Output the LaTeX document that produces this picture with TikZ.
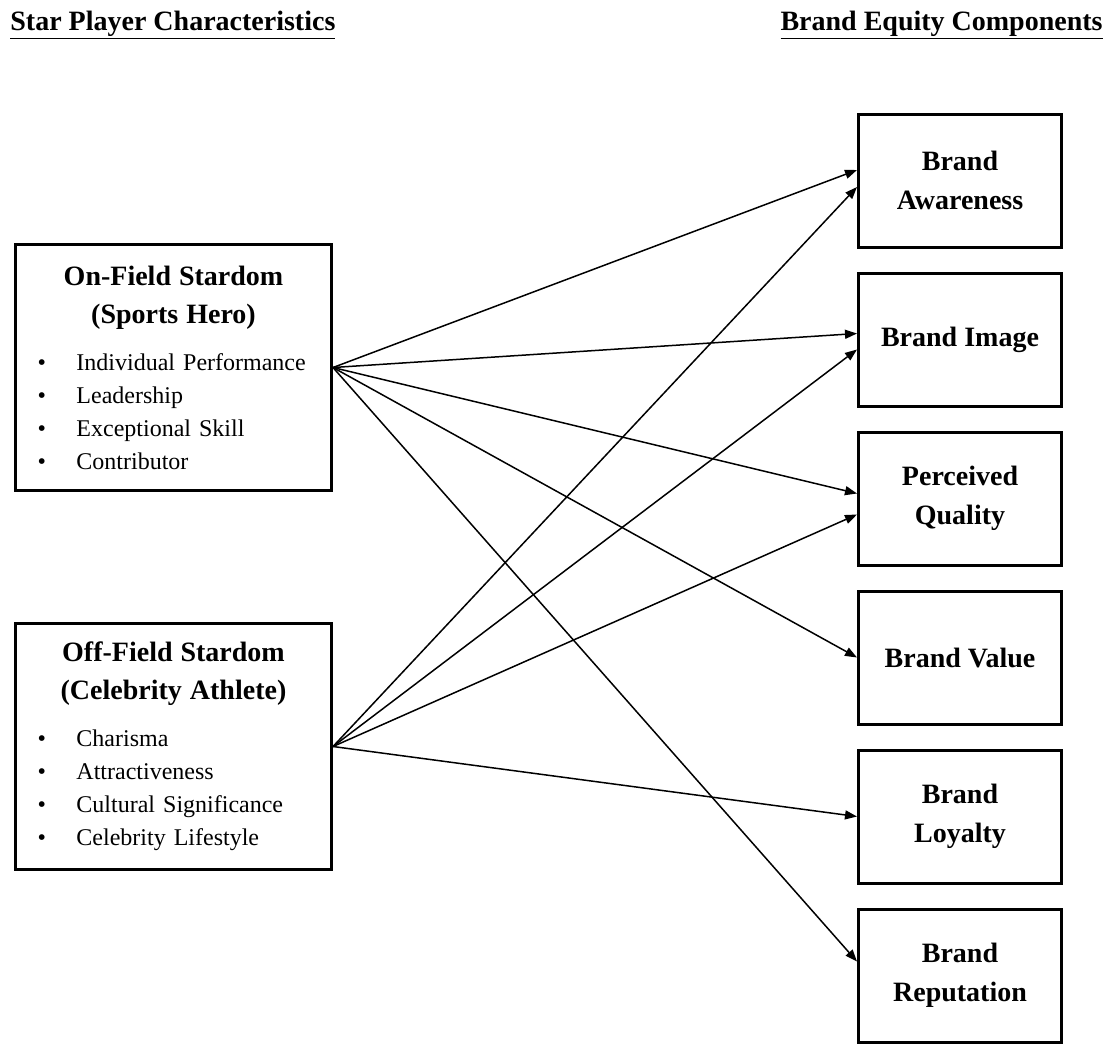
\documentclass[tikz,border=0pt]{standalone}
\usepackage{fontspec}
\setmainfont{Liberation Serif}
\usetikzlibrary{arrows.meta,positioning}

\newcommand{\listentry}[1]{\makebox[158pt][l]{\hspace*{11pt}\makebox[19.5pt][l]{\textbullet}#1}}

\begin{document}
\begin{tikzpicture}[
    x=0.5pt, y=-0.5pt,
    node distance=11.5pt,
    headnode/.style={font=\bfseries\fontsize{14}{17}\selectfont, inner sep=0pt},
    leftbox/.style={draw, line width=1.5pt, minimum width=158pt, minimum height=123pt,
        text width=158pt, inner sep=0pt, align=center, font=\fontsize{12}{16.5}\selectfont},
    rightbox/.style={draw, line width=1.5pt, minimum width=101.5pt, minimum height=66.5pt,
        align=center, font=\bfseries\fontsize{14}{19.5}\selectfont},
    arr/.style={-{Triangle[length=6pt,width=4.5pt]}, line width=0.75pt}
]
\useasboundingbox (0,0) rectangle (1114,1045);

% Headers
\node[headnode, anchor=base west] (lefthead) at (10,30) {\underline{Star Player Characteristics}};
\node[headnode, anchor=base east] (righthead) at (1103,30) {\underline{Brand Equity Components}};

% Star player boxes
\node[leftbox] (onfield) at (173.5,367.5) {%
    {\bfseries\fontsize{14}{19}\selectfont On-Field Stardom\\[2.5pt] (Sports Hero)}\\[7pt]
    \listentry{Individual Performance}\\
    \listentry{Leadership}\\
    \listentry{Exceptional Skill}\\
    \listentry{Contributor}};
\node[leftbox, below=65pt of onfield] (offfield) {%
    {\bfseries\fontsize{14}{19}\selectfont Off-Field Stardom\\[2.5pt] (Celebrity Athlete)}\\[7pt]
    \listentry{Charisma}\\
    \listentry{Attractiveness}\\
    \listentry{Cultural Significance}\\
    \listentry{Celebrity Lifestyle}};

% Brand equity boxes
\node[rightbox] (aware) at (960,180.5) {Brand\\Awareness};
\node[rightbox, below=of aware] (image) {Brand Image};
\node[rightbox, below=of image] (quality) {Perceived\\Quality};
\node[rightbox, below=of quality] (value) {Brand Value};
\node[rightbox, below=of value] (loyalty) {Brand\\Loyalty};
\node[rightbox, below=of loyalty] (reput) {Brand\\Reputation};

% On-field links
\draw[arr] (onfield.east) -- ([yshift=5.25pt]aware.west);
\draw[arr] (onfield.east) -- ([yshift=3pt]image.west);
\draw[arr] (onfield.east) -- ([yshift=2.5pt]quality.west);
\draw[arr] (onfield.east) -- (value.west);
\draw[arr] (onfield.east) -- ([yshift=7pt]reput.west);

% Off-field links
\draw[arr] (offfield.east) -- ([yshift=-3.25pt]aware.west);
\draw[arr] (offfield.east) -- ([yshift=-5pt]image.west);
\draw[arr] (offfield.east) -- ([yshift=-8pt]quality.west);
\draw[arr] (offfield.east) -- (loyalty.west);

\end{tikzpicture}
\end{document}
